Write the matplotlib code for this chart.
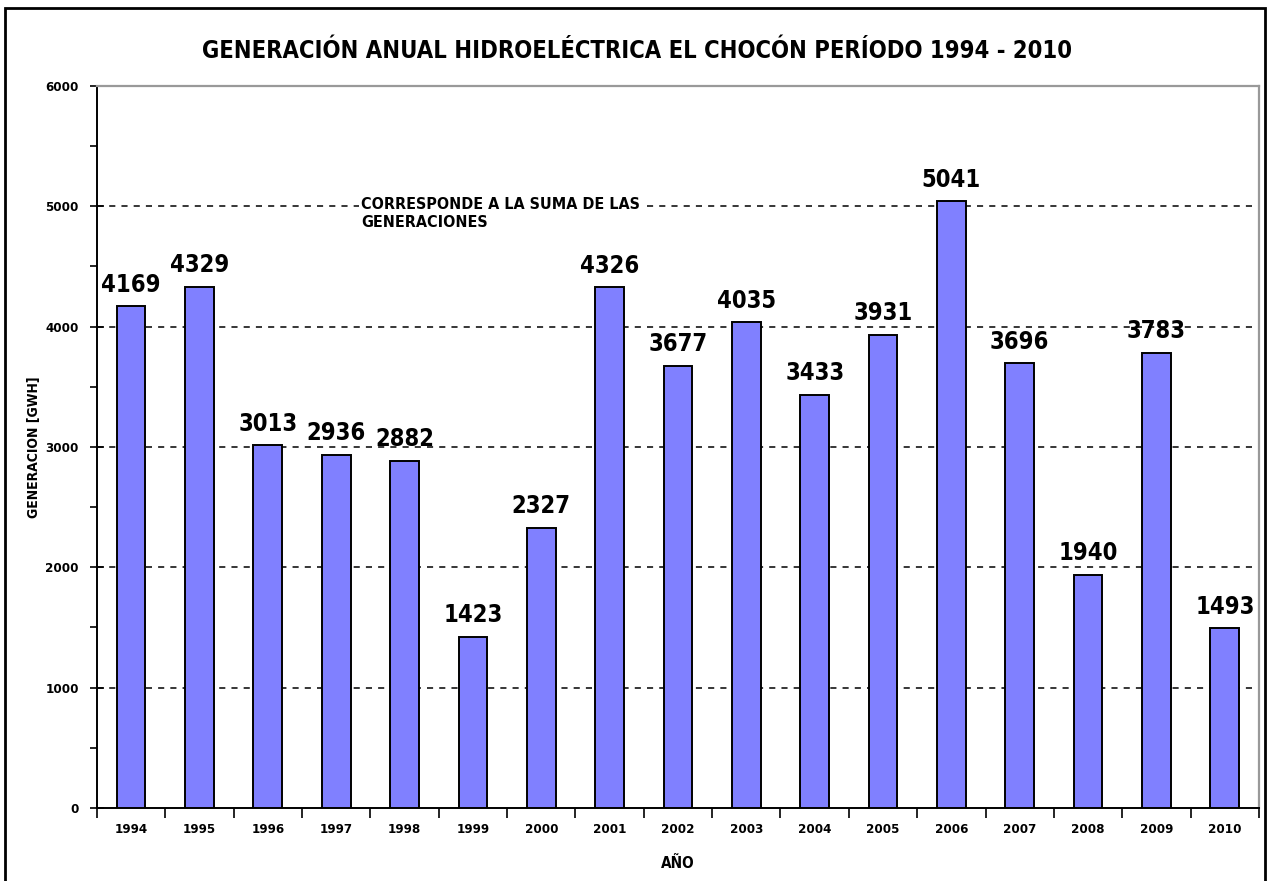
import numpy as np
import matplotlib.pyplot as plt
from matplotlib.patches import Rectangle

plt.rcParams['font.family'] = ['DejaVu Sans']
plt.rcParams['font.stretch'] = 'condensed'

years = ['1994', '1995', '1996', '1997', '1998', '1999', '2000', '2001', '2002',
         '2003', '2004', '2005', '2006', '2007', '2008', '2009', '2010']
gen_gwh = [4169, 4329, 3013, 2936, 2882, 1423, 2327, 4326, 3677,
           4035, 3433, 3931, 5041, 3696, 1940, 3783, 1493]
y_ticks = [0, 1000, 2000, 3000, 4000, 5000, 6000]

fig = plt.figure(figsize=(12.69, 8.81), dpi=100)
ax = fig.add_axes([0.0764, 0.0829, 0.9157, 0.8195])

x = np.arange(len(years))
ax.bar(x, gen_gwh, width=0.42, color='#8080ff', edgecolor='black', linewidth=1.4, zorder=3)

for xi, v in zip(x, gen_gwh):
    ax.annotate(str(v), (xi, v), xytext=(0, 7), textcoords='offset points',
                ha='center', va='bottom', fontsize=17, fontweight='bold', zorder=5)

ax.set_xlim(-0.5, len(years) - 0.5)
ax.set_ylim(0, 6000)

# dashed grid at the thousands, except the top edge
for g in y_ticks[1:-1]:
    ax.axhline(g, color='black', linestyle=(0, (4, 4)), linewidth=1.1, zorder=1)

ax.set_yticks(y_ticks)
ax.set_yticklabels([str(t) for t in y_ticks], fontsize=9.5, fontweight='bold')
ax.set_yticks(np.arange(500, 6000, 1000), minor=True)
ax.tick_params(axis='y', which='major', direction='inout', length=10, width=1.2, pad=8)
ax.tick_params(axis='y', which='minor', direction='out', length=5, width=1.2)

ax.set_xticks(x)
ax.set_xticklabels(years, fontsize=9.5, fontweight='bold')
ax.set_xticks(np.arange(-0.5, len(years), 1.0), minor=True)
ax.tick_params(axis='x', which='major', length=0, pad=11)
ax.tick_params(axis='x', which='minor', direction='out', length=7, width=1.2)

for side in ['left', 'bottom']:
    ax.spines[side].set_color('black')
    ax.spines[side].set_linewidth(1.4)
for side in ['top', 'right']:
    ax.spines[side].set_color('#999999')
    ax.spines[side].set_linewidth(1.6)

ax.set_ylabel('GENERACION [GWH]', fontsize=10, fontweight='bold')
ax.yaxis.set_label_coords(-0.048, 0.5)
ax.set_xlabel('AÑO', fontsize=11, fontweight='bold', labelpad=14)

ax.text(3.36, 5080, 'CORRESPONDE A LA SUMA DE LAS\nGENERACIONES', fontsize=11.5,
        fontweight='bold', ha='left', va='top', linespacing=1.25, zorder=4,
        bbox=dict(facecolor='white', edgecolor='none', pad=1))

fig.text(0.502, 0.942, 'GENERACIÓN ANUAL HIDROELÉCTRICA EL CHOCÓN PERÍODO 1994 - 2010',
         ha='center', va='center', fontsize=17, fontweight='bold')

fig.patches.append(Rectangle((0.004, -0.01), 0.993, 1.0009, transform=fig.transFigure,
                             fill=False, edgecolor='black', linewidth=2))

fig.savefig('out.png', dpi=100)
